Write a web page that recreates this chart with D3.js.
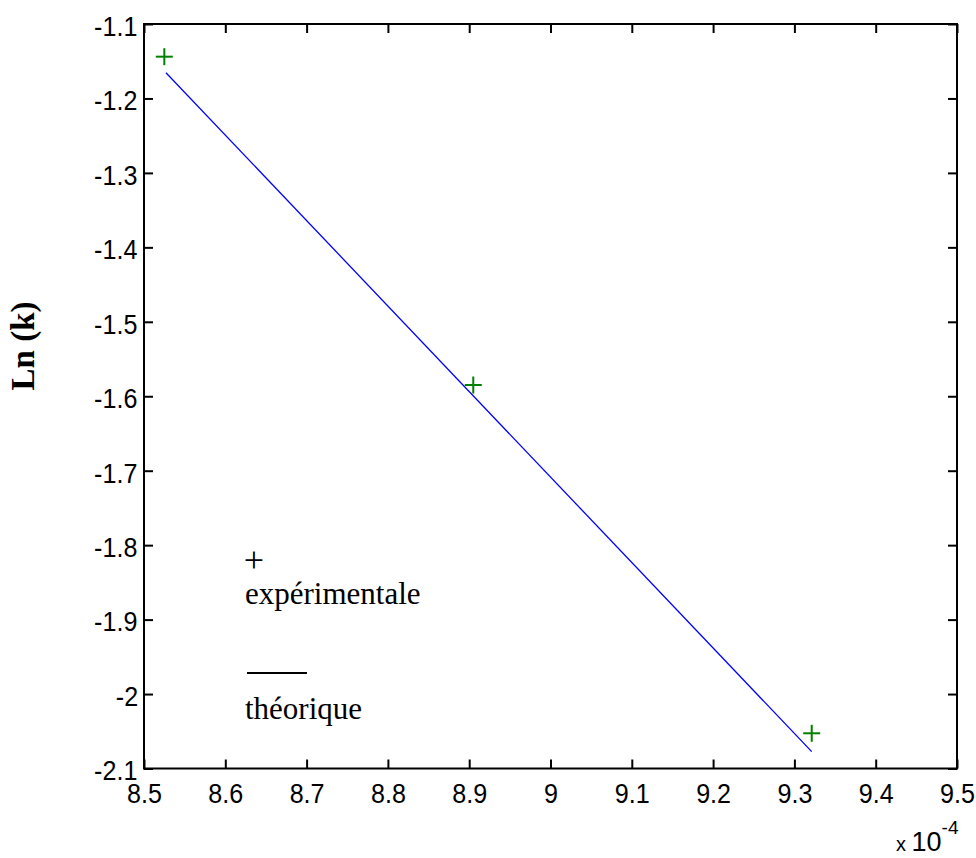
<!DOCTYPE html>
<html>
<head>
<meta charset="utf-8">
<script src="https://cdn.jsdelivr.net/npm/d3@7"></script>
<style>
  html, body { margin: 0; padding: 0; background: #ffffff; }
  svg { display: block; }
  .tick text { font-family: "Liberation Sans", Arial, sans-serif; font-size: 27px; fill: #000;
               transform-box: fill-box; transform-origin: center; transform: scaleX(0.93); }
</style>
</head>
<body>
<svg id="chart" width="976" height="858"></svg>
<script>
// Experimental points: 1/T (K^-1) against ln(k)
const expX = [8.525e-4, 8.905e-4, 9.3213e-4];
const expY = [-1.1439, -1.5849, -2.0527];

// Theoretical (fitted) straight line, end points
const fitX = [8.527e-4, 9.3213e-4];
const fitY = [-1.1654, -2.0774];

// Axis ticks
const xTicks = [8.5, 8.6, 8.7, 8.8, 8.9, 9.0, 9.1, 9.2, 9.3, 9.4, 9.5];
const yTicks = [-1.1, -1.2, -1.3, -1.4, -1.5, -1.6, -1.7, -1.8, -1.9, -2.0, -2.1];

const xExponent = -4;
const yTitle = "Ln (k)";
const legendLabels = ["expérimentale", "théorique"];

const svg = d3.select("#chart");
const plotL = 144, plotR = 957, plotT = 24, plotB = 768.5;

const x = d3.scaleLinear().domain([8.5e-4, 9.5e-4]).range([plotL, plotR]);
const y = d3.scaleLinear().domain([-2.1, -1.1]).range([plotB, plotT]);

// Plain ASCII hyphen for negatives, trailing zeros dropped
const plain = v => String(+v.toFixed(1));
const fmtX = d => plain(d / Math.pow(10, xExponent));
const fmtY = d => plain(d);

const xTickVals = xTicks.map(t => t * Math.pow(10, xExponent));

// Bottom axis with labels
const gx = svg.append("g").attr("transform", `translate(0,${plotB})`)
  .call(d3.axisBottom(x).tickValues(xTickVals).tickFormat(fmtX).tickSizeInner(-9).tickSizeOuter(0).tickPadding(14));
// Top axis, ticks only
const gxt = svg.append("g").attr("transform", `translate(0,${plotT})`)
  .call(d3.axisTop(x).tickValues(xTickVals).tickFormat("").tickSizeInner(-9).tickSizeOuter(0));
// Left axis with labels
const gy = svg.append("g").attr("transform", `translate(${plotL},0)`)
  .call(d3.axisLeft(y).tickValues(yTicks).tickFormat(fmtY).tickSizeInner(-9).tickSizeOuter(0).tickPadding(5));
// Right axis, ticks only
const gyr = svg.append("g").attr("transform", `translate(${plotR},0)`)
  .call(d3.axisRight(y).tickValues(yTicks).tickFormat("").tickSizeInner(-9).tickSizeOuter(0));

[gx, gxt, gy, gyr].forEach(g => {
  g.select(".domain").remove();
  g.selectAll(".tick line").attr("stroke", "#000").attr("stroke-width", 2);
});
gy.selectAll(".tick text").attr("dy", "0.42em");
gx.selectAll(".tick text").attr("dy", "0.75em");

// Axes box
svg.append("rect")
  .attr("x", plotL).attr("y", plotT)
  .attr("width", plotR - plotL).attr("height", plotB - plotT)
  .attr("fill", "none").attr("stroke", "#000").attr("stroke-width", 2);

// Theoretical line
const line = d3.line().x(d => x(d[0])).y(d => y(d[1]));
svg.append("path")
  .datum(d3.zip(fitX, fitY))
  .attr("d", line)
  .attr("fill", "none").attr("stroke", "#0000ff").attr("stroke-width", 1.3);

// Experimental markers (+)
const arm = 8.5;
const pts = svg.append("g").selectAll("g").data(d3.zip(expX, expY)).join("g")
  .attr("transform", d => `translate(${x(d[0])},${y(d[1])})`);
pts.append("line").attr("x1", -arm).attr("x2", arm).attr("y1", 0).attr("y2", 0)
  .attr("stroke", "#008000").attr("stroke-width", 2);
pts.append("line").attr("x1", 0).attr("x2", 0).attr("y1", -arm).attr("y2", arm)
  .attr("stroke", "#008000").attr("stroke-width", 2);

// Legend
const serif = '"Liberation Serif", "Times New Roman", serif';
const lg = svg.append("g");
lg.append("text").attr("x", 254).attr("y", 572).attr("text-anchor", "middle")
  .attr("font-family", serif).attr("font-size", 36).attr("fill", "#000").text("+");
lg.append("text").attr("x", 245).attr("y", 604)
  .attr("font-family", serif).attr("font-size", 31).attr("fill", "#000").text(legendLabels[0]);
lg.append("line").attr("x1", 247).attr("x2", 307).attr("y1", 673).attr("y2", 673)
  .attr("stroke", "#000").attr("stroke-width", 2);
lg.append("text").attr("x", 245).attr("y", 719)
  .attr("font-family", serif).attr("font-size", 31).attr("fill", "#000").text(legendLabels[1]);

// Y axis title
svg.append("text")
  .attr("transform", "translate(34,346) rotate(-90)")
  .attr("text-anchor", "middle")
  .attr("font-family", serif).attr("font-weight", "bold").attr("font-size", 33)
  .attr("fill", "#000").text(yTitle);

// Exponent label for the x axis
const ex = svg.append("text")
  .attr("x", 896).attr("y", 851)
  .attr("font-family", '"Liberation Sans", Arial, sans-serif').attr("fill", "#000");
ex.append("tspan").attr("font-size", 20).text("x ");
ex.append("tspan").attr("font-size", 27).text("10");
ex.append("tspan").attr("font-size", 19).attr("dy", -17).text(String(xExponent));
</script>
</body>
</html>
